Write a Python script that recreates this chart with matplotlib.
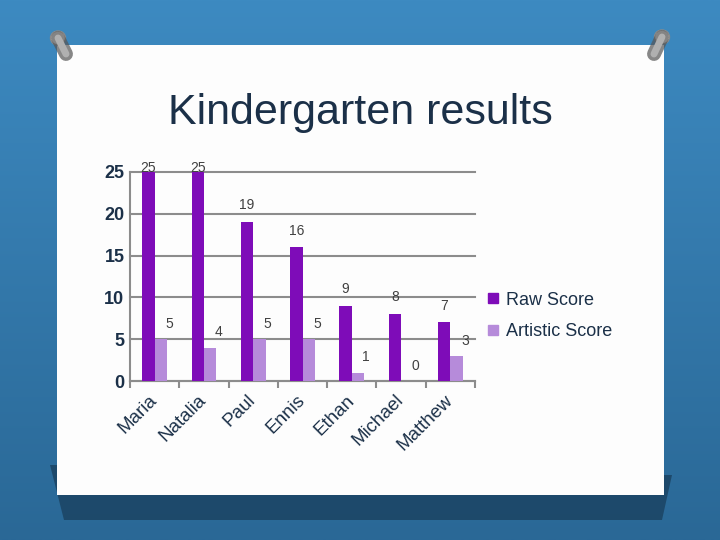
import matplotlib
matplotlib.use("Agg")
from matplotlib import pyplot as plt
from matplotlib.patches import Rectangle, Polygon, Ellipse
from matplotlib.lines import Line2D
import numpy as np

plt.rcParams['font.family'] = ['Liberation Sans', 'DejaVu Sans']

# data
names = ['Maria', 'Natalia', 'Paul', 'Ennis', 'Ethan', 'Michael', 'Matthew']
raw_score = [25, 25, 19, 16, 9, 8, 7]
artistic_score = [5, 4, 5, 5, 1, 0, 3]

raw_color = '#7E0CB8'
art_color = '#B68BDA'
text_color = '#1B3048'

W, H = 720, 540
fig = plt.figure(figsize=(7.2, 5.4), dpi=100)


def px(x, y):
    # pixel position (from top-left) -> figure fraction
    return (x / W, 1 - y / H)


# background: blue gradient over the whole figure
bg = fig.add_axes([0, 0, 1, 1])
bg.set_axis_off()
grad = np.linspace(0, 1, 256).reshape(-1, 1)
cmap = matplotlib.colors.LinearSegmentedColormap.from_list('bg', ['#3D8AC1', '#2A6896'])
bg.imshow(grad, aspect='auto', cmap=cmap, extent=[0, 1, 0, 1])
bg.set_xlim(0, 1)
bg.set_ylim(0, 1)

# shadow under the paper
shadow = [px(50, 465), px(57, 465), px(57, 495), px(664, 495), px(664, 475),
          px(672, 475), px(662, 520), px(64, 520)]
bg.add_patch(Polygon(shadow, closed=True, facecolor='#1C4666', edgecolor='none', alpha=0.9))

# white paper
x0, y0 = px(57, 495)
x1, y1 = px(664, 45)
bg.add_patch(Rectangle((x0, y0), x1 - x0, y1 - y0, facecolor='#FDFDFD', edgecolor='none'))

# pins
for head, tail in [((58, 38), (66, 54)), ((662, 37), (654, 54))]:
    hx, hy = px(*head)
    tx, ty = px(*tail)
    bg.plot([hx, tx], [hy, ty], color='#555555', lw=10, solid_capstyle='round', alpha=0.7)
    bg.plot([hx, tx], [hy, ty], color='#B0B0B0', lw=5, solid_capstyle='round')
    bg.add_patch(Ellipse((hx, hy), 15 / W, 14 / H,
                         facecolor='#F2F2F2', edgecolor='#8A8A8A', lw=1))

# title
fig.text(0.5, px(0, 113)[1], 'Kindergarten results', fontsize=31,
         ha='center', va='center', color=text_color)

# chart
ax = fig.add_axes([130 / W, 1 - 381 / H, 345 / W, 209 / H])
ax.set_facecolor('none')

x = np.arange(len(names))
w = 0.25
ax.bar(x - w / 2, raw_score, w, color=raw_color, label='Raw Score', zorder=3)
ax.bar(x + w / 2, artistic_score, w, color=art_color, label='Artistic Score', zorder=3)

for xi, v in zip(x, raw_score):
    off = 3 if v >= 25 else 12
    ax.annotate(str(v), (xi - w / 2, v), xytext=(0, off), textcoords='offset points',
                ha='center', va='center', fontsize=10, color='#404040', annotation_clip=False)
for xi, v in zip(x, artistic_score):
    ax.annotate(str(v), (xi + w / 2, v), xytext=(6, 11), textcoords='offset points',
                ha='center', va='center', fontsize=10, color='#404040', annotation_clip=False)

ax.set_xlim(-0.5, len(names) - 0.5)
ax.set_ylim(0, 25)
ax.set_yticks([0, 5, 10, 15, 20, 25])
ax.yaxis.grid(True, color='#8C8C8C', lw=1.5, zorder=0)
ax.set_axisbelow(True)
for gl in ax.yaxis.get_gridlines():
    gl.set_clip_on(False)

ax.set_xticks(x)
ax.set_xticklabels(names, rotation=45, ha='right', va='center', rotation_mode='anchor',
                   fontsize=13.5, color=text_color)
ax.set_xticks(np.arange(-0.5, len(names), 1), minor=True)
ax.tick_params(axis='x', which='major', length=0, pad=12)
ax.tick_params(axis='x', which='minor', length=5, width=1.5, color='#8C8C8C', direction='out')
ax.tick_params(axis='y', length=0, pad=4, labelsize=13, labelcolor=text_color)
for lab in ax.get_yticklabels():
    lab.set_fontweight('bold')

for s in ['top', 'right']:
    ax.spines[s].set_visible(False)
for s in ['left', 'bottom']:
    ax.spines[s].set_color('#8C8C8C')
    ax.spines[s].set_linewidth(1.5)

handles = [Line2D([], [], marker='s', ls='none', color=raw_color, markersize=7),
           Line2D([], [], marker='s', ls='none', color=art_color, markersize=7)]
fig.legend(handles, ['Raw Score', 'Artistic Score'], loc='center left',
           bbox_to_anchor=px(486, 316), frameon=False, fontsize=13,
           handlelength=0.8, handletextpad=0.3, labelspacing=0.8,
           borderpad=0, borderaxespad=0, labelcolor=text_color)

fig.savefig('out.png', dpi=100)
